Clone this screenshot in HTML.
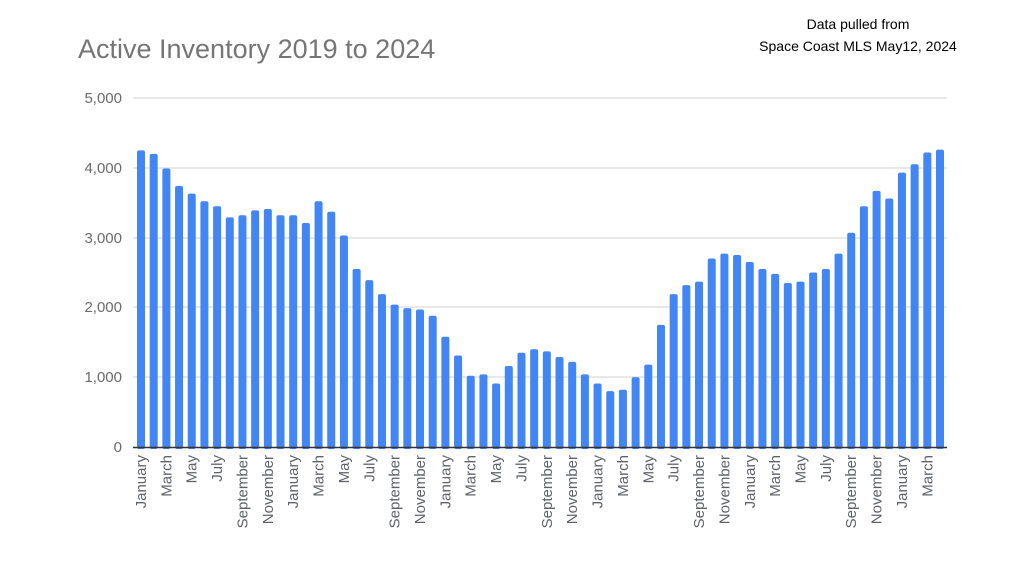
<!DOCTYPE html>
<html><head><meta charset="utf-8"><style>
html,body{margin:0;padding:0;background:#fff;}
svg{display:block;font-family:"Liberation Sans",sans-serif;}
</style></head><body>
<svg width="1024" height="576" viewBox="0 0 1024 576" xmlns="http://www.w3.org/2000/svg">
<rect width="1024" height="576" fill="#fff"/>
<text x="78" y="58" font-size="27" fill="#757575">Active Inventory 2019 to 2024</text>
<text x="858" y="29" font-size="14" fill="#000" text-anchor="middle">Data pulled from</text>
<text x="858" y="51" font-size="14" fill="#000" text-anchor="middle">Space Coast MLS May12, 2024</text>
<g stroke="#d9d9d9" stroke-width="1.3">
<line x1="133" x2="947" y1="98" y2="98"/>
<line x1="133" x2="947" y1="168" y2="168"/>
<line x1="133" x2="947" y1="238" y2="238"/>
<line x1="133" x2="947" y1="307" y2="307"/>
<line x1="133" x2="947" y1="377" y2="377"/>
</g>
<g font-size="15" fill="#6b6b6b" text-anchor="end">
<text x="122" y="103">5,000</text>
<text x="122" y="173">4,000</text>
<text x="122" y="243">3,000</text>
<text x="122" y="312">2,000</text>
<text x="122" y="382">1,000</text>
<text x="122" y="452">0</text>
</g>
<g id="bars" fill="#4285f4"></g>
<line x1="133" x2="947" y1="447.5" y2="447.5" stroke="#333" stroke-width="1.5"/>
<g id="labels" font-size="15" fill="#5f6368"></g>
</svg>
<script>
var v=[4250,4200,3990,3740,3630,3520,3450,3290,3320,3390,3410,3320,3320,3210,3520,3370,3030,2550,2390,2190,2040,1990,1970,1880,1580,1310,1020,1040,910,1160,1350,1400,1370,1290,1220,1040,910,800,820,1000,1180,1750,2190,2320,2370,2700,2770,2750,2650,2550,2480,2350,2370,2500,2550,2770,3070,3450,3670,3560,3930,4050,4220,4260];
var m=["January","March","May","July","September","November"];
var ns="http://www.w3.org/2000/svg",b=document.getElementById("bars"),l=document.getElementById("labels");
for(var i=0;i<64;i++){var cx=141+i*(799/63),h=v[i]*0.0698;
var r=document.createElementNS(ns,"rect");r.setAttribute("x",cx-4);r.setAttribute("y",447-h);r.setAttribute("width",8);r.setAttribute("height",h+2);r.setAttribute("rx",2);b.appendChild(r);
if(i%2==0){var t=document.createElementNS(ns,"text");t.setAttribute("transform","translate("+(cx+5)+",455) rotate(-90)");t.setAttribute("text-anchor","end");t.textContent=m[(i/2)%6];l.appendChild(t);}}
</script>
</body></html>
